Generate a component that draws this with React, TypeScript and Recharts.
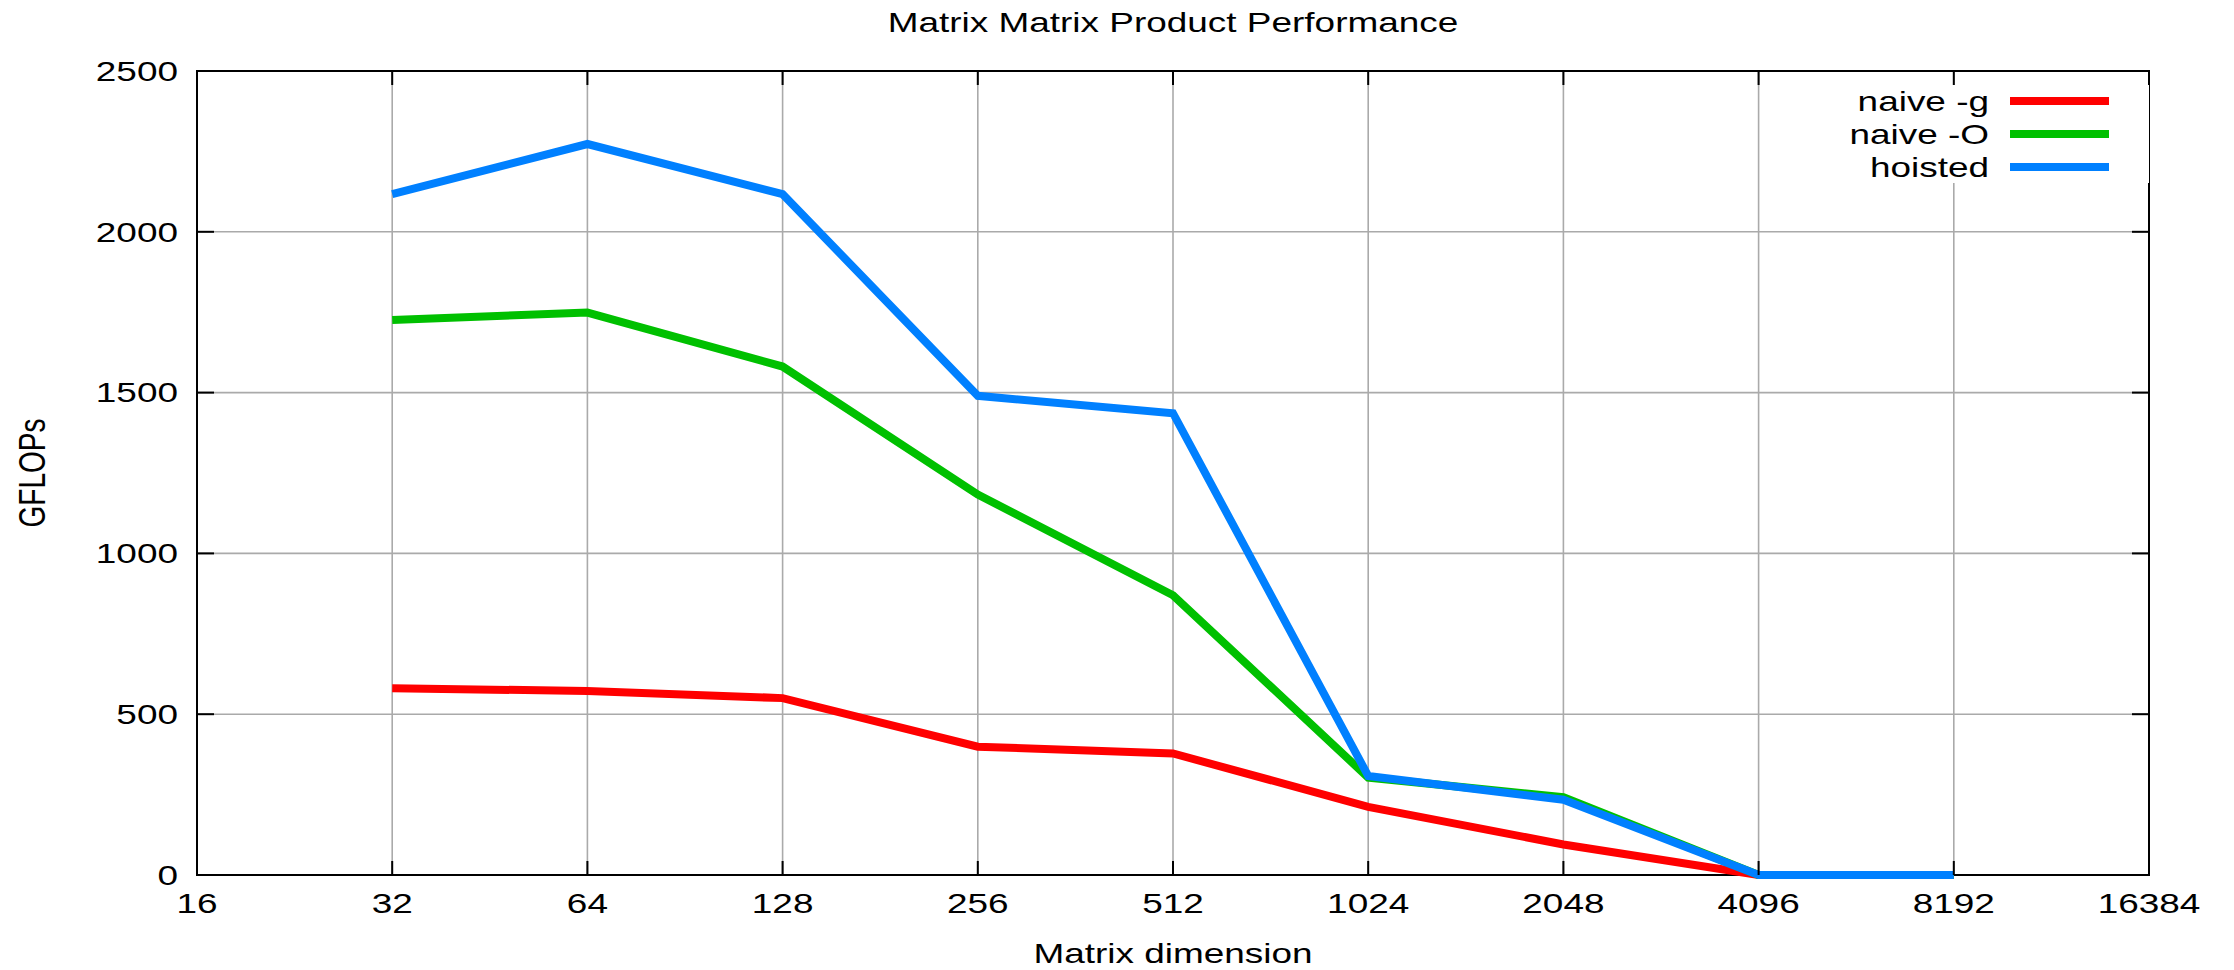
import { LineChart, Line, XAxis, YAxis, CartesianGrid, ReferenceArea, Legend, Label } from 'recharts'

// matrix sizes (log2 axis)
const dims = [32, 64, 128, 256, 512, 1024, 2048, 4096, 8192]
const naiveG = [581, 572, 550, 399, 378, 212, 95, 0, 0]
const naiveO = [1726, 1749, 1581, 1183, 870, 303, 242, 0, 0]
const hoisted = [2117, 2273, 2117, 1490, 1436, 308, 234, 0, 0]

const xTicks = [16, 32, 64, 128, 256, 512, 1024, 2048, 4096, 8192, 16384]
const yTicks = [0, 500, 1000, 1500, 2000, 2500]

const series = [
  { key: 'naiveG', name: 'naive -g', color: '#ff0000' },
  { key: 'naiveO', name: 'naive -O', color: '#00c000' },
  { key: 'hoisted', name: 'hoisted', color: '#0080ff' },
]

const data = dims.map((d, i) => ({ dim: d, naiveG: naiveG[i], naiveO: naiveO[i], hoisted: hoisted[i] }))

const W = 2234
const H = 970
const PLOT = { left: 197, top: 71, right: 2149, bottom: 875 }
const FONT = '"Liberation Sans", Arial, Helvetica, sans-serif'
const SX = 1.32

function Txt({ x, y, anchor = 'middle', rotate = false, children }: any) {
  return (
    <g transform={`translate(${x},${y}) scale(${SX},1)${rotate ? ' rotate(-90)' : ''}`}>
      <text textAnchor={anchor} dominantBaseline="central" fontFamily={FONT} fontSize={28} fill="#000">
        {children}
      </text>
    </g>
  )
}

function XTick({ x, y, payload }: any) {
  return (
    <g>
      <line x1={x} y1={y} x2={x} y2={y - 14} stroke="#000" strokeWidth={2} />
      <line x1={x} y1={PLOT.top} x2={x} y2={PLOT.top + 14} stroke="#000" strokeWidth={2} />
      <Txt x={x} y={y + 28}>{payload.value}</Txt>
    </g>
  )
}

function YTick({ x, y, payload }: any) {
  return (
    <g>
      <line x1={x} y1={y} x2={x + 17} y2={y} stroke="#000" strokeWidth={2} />
      <line x1={PLOT.right - 17} y1={y} x2={PLOT.right} y2={y} stroke="#000" strokeWidth={2} />
      <Txt x={x - 19} y={y} anchor="end">{payload.value}</Txt>
    </g>
  )
}

function KeyBox() {
  return (
    <svg width={309} height={98} style={{ display: 'block', background: '#fff' }}>
      {series.map((s, i) => (
        <g key={s.key}>
          <Txt x={149} y={16 + i * 33} anchor="end">{s.name}</Txt>
          <line x1={170} y1={16 + i * 33} x2={269} y2={16 + i * 33} stroke={s.color} strokeWidth={8} />
        </g>
      ))}
    </svg>
  )
}

export default function App() {
  return (
    <div style={{ position: 'absolute', left: 0, top: 0, width: W, height: H, background: '#fff' }}>
      <svg width={W} height={60} style={{ position: 'absolute', left: 0, top: 0 }}>
        <Txt x={(PLOT.left + PLOT.right) / 2} y={22}>Matrix Matrix Product Performance</Txt>
      </svg>
      <LineChart
        width={W}
        height={H}
        data={data}
        margin={{ top: PLOT.top, right: W - PLOT.right, left: PLOT.left - 100, bottom: H - PLOT.bottom - 60 }}
      >
        <CartesianGrid stroke="#aaaaaa" strokeWidth={1.6} />
        <XAxis
          dataKey="dim"
          type="number"
          scale="log"
          domain={[16, 16384]}
          ticks={xTicks}
          interval={0}
          allowDataOverflow
          height={60}
          axisLine={false}
          tickLine={false}
          tickSize={0}
          tickMargin={0}
          tick={<XTick />}
        >
          <Label
            content={() => <Txt x={(PLOT.left + PLOT.right) / 2} y={953}>Matrix dimension</Txt>}
          />
        </XAxis>
        <YAxis
          type="number"
          domain={[0, 2500]}
          ticks={yTicks}
          interval={0}
          width={100}
          axisLine={false}
          tickLine={false}
          tickSize={0}
          tickMargin={0}
          tick={<YTick />}
        >
          <Label content={() => <Txt x={32} y={473} rotate>GFLOPs</Txt>} />
        </YAxis>
        <ReferenceArea
          x1={16}
          x2={16384}
          y1={0}
          y2={2500}
          fill="none"
          stroke="#000"
          strokeWidth={2}
          ifOverflow="visible"
        />
        <Legend
          layout="vertical"
          align="center"
          verticalAlign="middle"
          wrapperStyle={{ left: 1840, top: 85, width: 309, height: 98 }}
          content={() => <KeyBox />}
        />
        {series.map((s) => (
          <Line
            key={s.key}
            dataKey={s.key}
            name={s.name}
            stroke={s.color}
            strokeWidth={8}
            dot={false}
            activeDot={false}
            isAnimationActive={false}
          />
        ))}
      </LineChart>
    </div>
  )
}
